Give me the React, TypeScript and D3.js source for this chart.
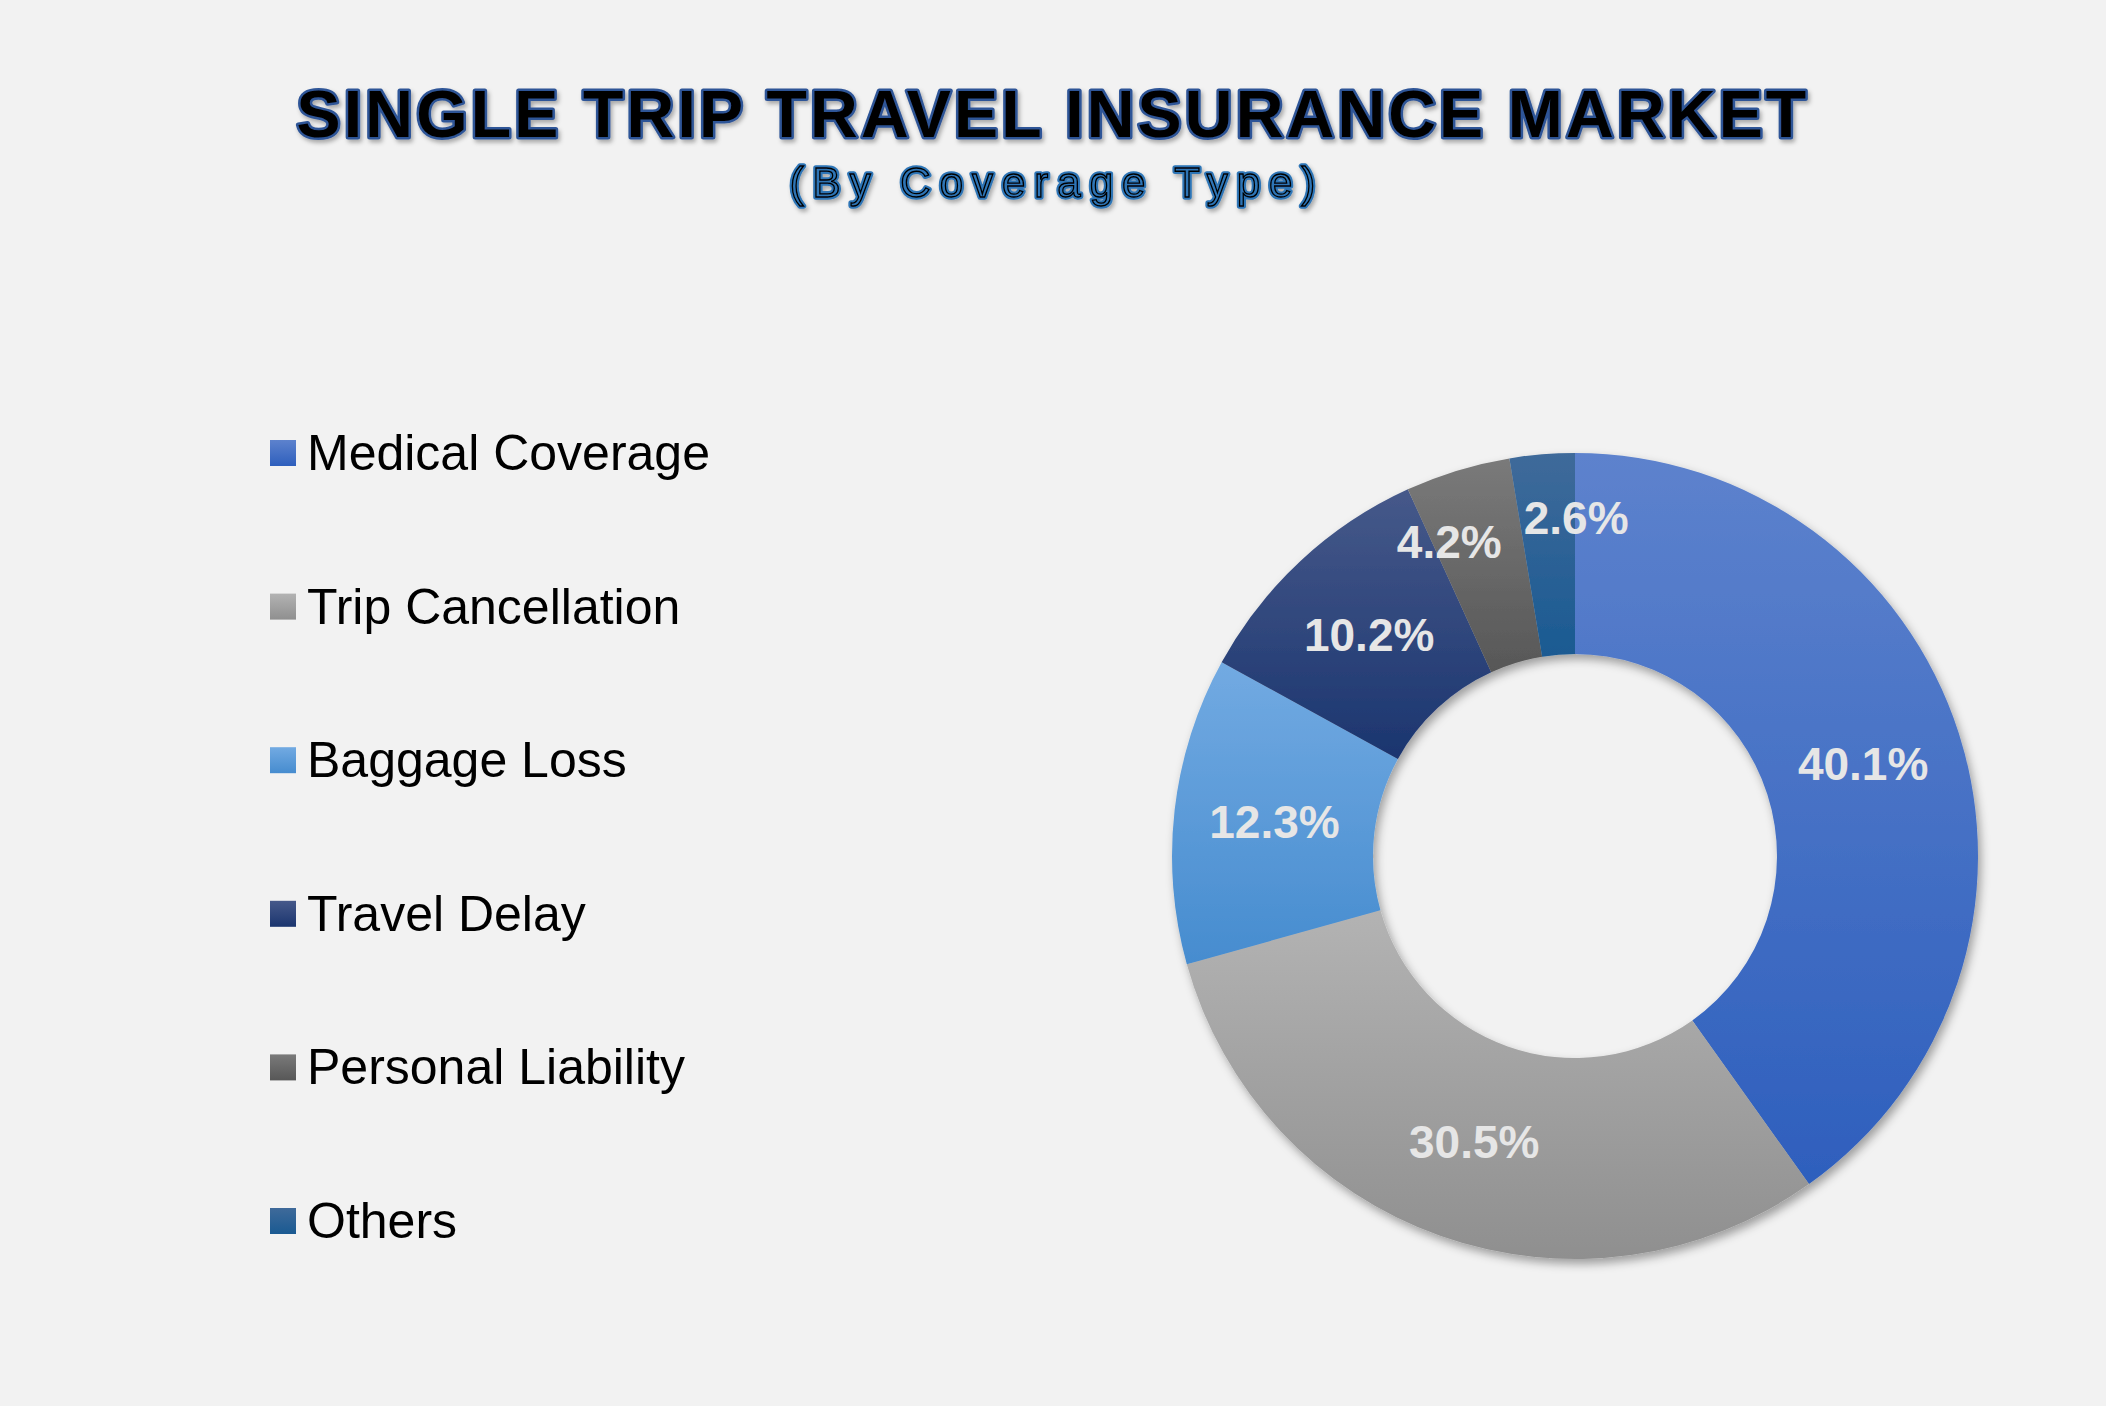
import * as d3 from 'd3';

const categories = [
  'Medical Coverage',
  'Trip Cancellation',
  'Baggage Loss',
  'Travel Delay',
  'Personal Liability',
  'Others',
];
const shares = [40.1, 30.5, 12.3, 10.2, 4.2, 2.6];
// gradient stops per slice: top, bottom
const topColors = ['#5d82cd', '#b3b3b3', '#72aae2', '#46598a', '#7a7a7a', '#3f6a9a'];
const bottomColors = ['#2e5fbd', '#8f8f8f', '#468ccf', '#1b356f', '#575757', '#1a5a92'];

const W = 2106;
const H = 1406;
const FONT = "'Liberation Sans', Arial, sans-serif";

export default function App() {
  const cx = 1575;
  const cy = 856;
  const outerR = 403;
  const innerR = 202;

  const pie = d3.pie<number>().sort(null).value((d) => d);
  const arcs = pie(shares);
  const arc = d3.arc<d3.PieArcDatum<number>>().innerRadius(innerR).outerRadius(outerR);
  const labelArc = d3.arc<d3.PieArcDatum<number>>().innerRadius(innerR).outerRadius(outerR);

  // small slices: labels pushed outward and spread apart so they don't collide
  const smallR = outerR * 0.84;
  const minSep = (22 * Math.PI) / 180;
  const small = arcs
    .map((a, i) => ({ i, ang: (a.startAngle + a.endAngle) / 2 }))
    .filter((d) => arcs[d.i].data < 5)
    .sort((a, b) => a.ang - b.ang);
  for (let k = 1; k < small.length; k++) {
    const gap = small[k].ang - small[k - 1].ang;
    if (gap < minSep) {
      const push = (minSep - gap) / 2;
      small[k - 1].ang -= push;
      small[k].ang += push;
    }
  }
  const smallPos = new Map(small.map((d) => [d.i, [Math.sin(d.ang) * smallR, -Math.cos(d.ang) * smallR]]));

  const rowY = d3.scaleLinear().domain([0, 1]).range([453, 453 + 153.6]);

  return (
    <div style={{ position: 'absolute', left: 0, top: 0 }}>
      <svg width={W} height={H} style={{ display: 'block' }}>
        <defs>
          {categories.map((c, i) => (
            <linearGradient key={c} id={`g${i}`} x1="0" y1="0" x2="0" y2="1">
              <stop offset="0" stopColor={topColors[i]} />
              <stop offset="1" stopColor={bottomColors[i]} />
            </linearGradient>
          ))}
          <filter id="ringShadow" x="-20%" y="-20%" width="140%" height="140%">
            <feDropShadow dx="3" dy="5" stdDeviation="5" floodColor="#000" floodOpacity="0.35" />
          </filter>
          <filter id="textShadow" x="-10%" y="-30%" width="120%" height="160%">
            <feDropShadow dx="2" dy="3" stdDeviation="2" floodColor="#000" floodOpacity="0.3" />
          </filter>
        </defs>
        <rect width={W} height={H} fill="#f2f2f2" />

        {/* Title */}
        <g filter="url(#textShadow)">
          <text
            x={W / 2}
            y={137}
            textAnchor="middle"
            fontFamily={FONT}
            fontWeight="bold"
            fontSize={66}
            letterSpacing={3.2}
            fill="#000"
            stroke="#2f5597"
            strokeWidth={5}
            strokeLinejoin="round"
            paintOrder="stroke"
          >
            SINGLE TRIP TRAVEL INSURANCE MARKET
          </text>
        </g>
        <g filter="url(#textShadow)">
          <text
            x={W / 2 + 4}
            y={197}
            textAnchor="middle"
            fontFamily={FONT}
            fontSize={42}
            letterSpacing={9}
            fill="#2e75b6"
            stroke="#2e75b6"
            strokeWidth={5.5}
            strokeLinejoin="round"
          >
            (By Coverage Type)
          </text>
          <text
            x={W / 2 + 4}
            y={197}
            textAnchor="middle"
            fontFamily={FONT}
            fontSize={42}
            letterSpacing={9}
            fill="#2e75b6"
            stroke="#000"
            strokeWidth={1.3}
          >
            (By Coverage Type)
          </text>
        </g>

        {/* Legend */}
        {categories.map((c, i) => (
          <g key={c} transform={`translate(270,${rowY(i)})`}>
            <rect x={0} y={-13} width={26} height={26} fill={`url(#g${i})`} />
            <text x={37} y={17} fontFamily={FONT} fontSize={50} fill="#000">
              {c}
            </text>
          </g>
        ))}

        {/* Donut */}
        <g transform={`translate(${cx},${cy})`}>
          <g filter="url(#ringShadow)">
            {arcs.map((a, i) => (
              <path key={categories[i]} d={arc(a) ?? ''} fill={`url(#g${i})`} />
            ))}
          </g>
          {arcs.map((a, i) => {
            const [lx, ly] = smallPos.get(i) ?? labelArc.centroid(a);
            return (
              <text
                key={categories[i]}
                x={lx}
                y={ly}
                dy="0.36em"
                textAnchor="middle"
                fontFamily={FONT}
                fontWeight="bold"
                fontSize={46}
                fill="#e6e6e6"
              >
                {`${a.data.toFixed(1)}%`}
              </text>
            );
          })}
        </g>
      </svg>
    </div>
  );
}
